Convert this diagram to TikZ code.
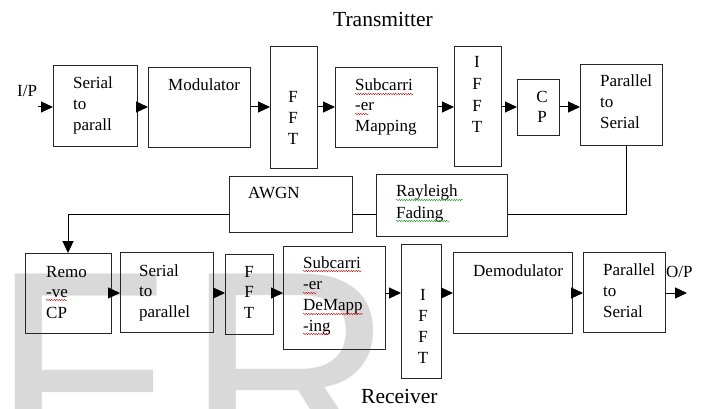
\documentclass[tikz,border=0pt]{standalone}
\usepackage{fontspec}
\setmainfont{Liberation Serif}
\newfontfamily\wmfont{Liberation Sans}
\usetikzlibrary{arrows.meta,decorations.pathmorphing,calc}
\begin{document}
\begin{tikzpicture}[x=1pt,y=-1pt,
  blk/.style={draw=black!85, line width=1.3pt, inner sep=0, anchor=north west},
  lbl/.style={inner sep=0, anchor=base west, align=left, font=\fontsize{17}{21}\selectfont},
  vlbl/.style={inner sep=0, anchor=base, align=center, font=\fontsize{17}{21}\selectfont},
  conn/.style={line width=1pt, black},
  arr/.style={conn, -{Triangle[length=12pt,width=11pt]}},
  sq/.style={red!80!black, line width=0.4pt, decorate, decoration={snake, amplitude=0.7pt, segment length=2.5pt}},
  sqg/.style={sq, draw=green!60!black},
]
\useasboundingbox (0,0) rectangle (707,409);
\begin{scope}
\clip (0,0) rectangle (707,409);
\node[inner sep=0, anchor=base west, text=black!15, font=\wmfont\fontsize{290}{290}\selectfont] (wmF) at (-9,473) {F};
\node[inner sep=0, anchor=base west, text=black!15, font=\wmfont\fontsize{290}{290}\selectfont] (wmR) at (185,473) {R};
\end{scope}

% titles
\node[inner sep=0, anchor=base west, font=\fontsize{21.5}{21.5}\selectfont] (tx) at (333,27) {Transmitter};
\node[inner sep=0, anchor=base west, font=\fontsize{21.5}{21.5}\selectfont] (rx) at (361,403) {Receiver};

% transmitter blocks
\node[blk, minimum width=84, minimum height=81] (s2p) at (53,65) {};
\node[blk, minimum width=102, minimum height=80] (mod) at (148,67) {};
\node[blk, minimum width=47, minimum height=122] (fft) at (270,46) {};
\node[blk, minimum width=102, minimum height=80] (sub) at (335,67) {};
\node[blk, minimum width=47, minimum height=120] (ifft) at (454,46) {};
\node[blk, minimum width=42, minimum height=56] (cp) at (517,79) {};
\node[blk, minimum width=82, minimum height=81] (p2s) at (580,64) {};
% channel blocks
\node[blk, minimum width=123, minimum height=56] (awgn) at (229,176) {};
\node[blk, minimum width=131, minimum height=62] (ray) at (376,174) {};
% receiver blocks
\node[blk, minimum width=86, minimum height=80] (rcp) at (25,253) {};
\node[blk, minimum width=93, minimum height=80] (s2pb) at (120,252) {};
\node[blk, minimum width=48, minimum height=80] (fftb) at (225,254) {};
\node[blk, minimum width=102, minimum height=103] (sdm) at (283,246) {};
\node[blk, minimum width=40, minimum height=134] (ifftb) at (401,244) {};
\node[blk, minimum width=119, minimum height=81] (demod) at (453,252) {};
\node[blk, minimum width=82, minimum height=80] (p2sb) at (583,252) {};

% labels (anchored at the baseline of the last line)
\node[lbl] (t-s2p) at (73,131) {Serial\\to\\parall};
\node[lbl] (t-mod) at (168,91) {Modulator};
\node[vlbl] (t-fft) at (293,145) {F\\F\\T};
\node[lbl] (t-sub) at (355,132) {Subcarri\\-er\\Mapping};
\node[vlbl, font=\fontsize{17}{21.7}\selectfont] (t-ifft) at (477,133) {I\\F\\F\\T};
\node[vlbl, font=\fontsize{17}{20}\selectfont] (t-cp) at (542,123) {C\\P};
\node[lbl] (t-p2s) at (600,129) {Parallel\\to\\Serial};
\node[lbl] (t-awgn) at (248,198) {AWGN};
\node[lbl] (t-ray) at (396,218) {Rayleigh\\Fading};
\node[lbl, font=\fontsize{17}{20.5}\selectfont] (t-rcp) at (46,318) {Remo\\-ve\\CP};
\node[lbl, font=\fontsize{17}{20.5}\selectfont] (t-s2pb) at (139,317) {Serial\\to\\parallel};
\node[vlbl, font=\fontsize{17}{20.5}\selectfont] (t-fftb) at (249,318) {F\\F\\T};
\node[lbl] (t-sdm) at (303,331) {Subcarri\\-er\\DeMapp\\-ing};
\node[vlbl] (t-ifftb) at (423,363) {I\\F\\F\\T};
\node[lbl] (t-demod) at (473,276) {Demodulator};
\node[lbl] (t-p2sb) at (603,317) {Parallel\\to\\Serial};
\node[lbl] (ip) at (17,97) {I/P};
\node[lbl] (op) at (666,277) {O/P};

% spell-check squiggles
\draw[sq] (355,94) -- (413,94);
\draw[sq] (355,114) -- (369,114);
\draw[sq] (46,300) -- (67,300);
\draw[sq] (303,271) -- (361,271);
\draw[sq] (303,293) -- (317,293);
\draw[sq] (303,314) -- (363,314);
\draw[sq] (303,334) -- (330,334);
\draw[sqg] (396,200) -- (463,200);
\draw[sqg] (396,221) -- (449,221);

% transmitter connectors
\coordinate (ipin) at (38,107);
\draw[arr] (ipin) -- (s2p.west |- ipin);
\draw[arr] (s2p.east |- ipin) -- (mod.west |- ipin);
\draw[arr] (mod.east |- ipin) -- (fft.west |- ipin);
\draw[arr] (fft.east |- ipin) -- (sub.west |- ipin);
\draw[arr] (sub.east |- ipin) -- (ifft.west |- ipin);
\draw[arr] (ifft.east |- ipin) -- (cp.west |- ipin);
\draw[arr] (cp.east |- ipin) -- (p2s.west |- ipin);

% channel path
\coordinate (drop) at (626,214);
\coordinate (turn) at (68,214);
\draw[conn] (p2s.south -| drop) -- (drop) -- (ray.east |- drop);
\draw[conn] (ray.west |- drop) -- (awgn.east |- drop);
\draw[arr] (awgn.west |- drop) -- (turn) -- (rcp.north -| turn);

% receiver connectors
\coordinate (by) at (0,293);
\coordinate (opout) at (687,293);
\draw[arr] (rcp.east |- by) -- (s2pb.west |- by);
\draw[arr] (s2pb.east |- by) -- (fftb.west |- by);
\draw[arr] (fftb.east |- by) -- (sdm.west |- by);
\draw[arr] (sdm.east |- by) -- (ifftb.west |- by);
\draw[arr] (ifftb.east |- by) -- (demod.west |- by);
\draw[arr] (demod.east |- by) -- (p2sb.west |- by);
\draw[arr] (p2sb.east |- by) -- (opout);
\end{tikzpicture}
\end{document}
